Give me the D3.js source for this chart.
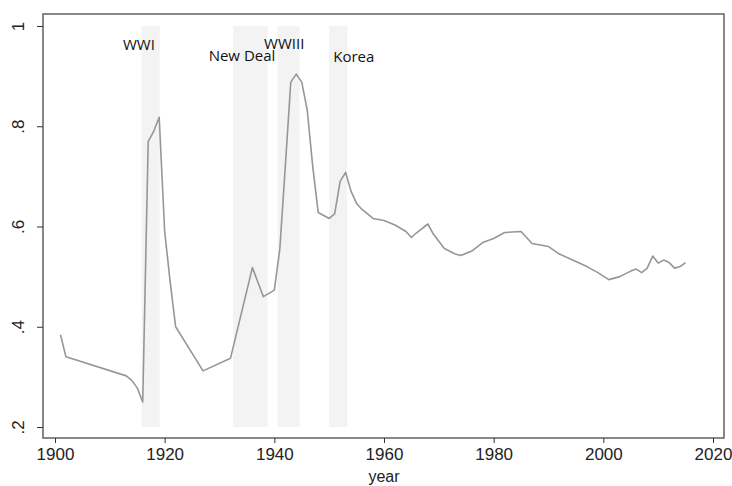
<!DOCTYPE html>
<html>
<head>
<meta charset="utf-8">
<script src="https://cdn.jsdelivr.net/npm/d3@7"></script>
<style>
	body { margin: 0; background: #fff; }
	.axis text { font-family: 'Liberation Sans', Arial, sans-serif; font-size: 17px; fill: #222; }
	.axis path, .axis line { stroke: #333; }
	.note { font-family: 'Open Sans', 'Noto Sans', sans-serif; font-size: 15px; fill: #111; }
</style>
</head>
<body>
<svg id="chart" width="732" height="486"></svg>
<script>
// series
const years = [1901, 1902, 1913, 1914, 1915, 1916, 1917, 1918, 1919, 1920, 1921, 1922, 1927, 1932, 1936, 1938, 1940, 1941, 1942, 1943, 1944, 1945, 1946, 1947, 1948, 1950, 1951, 1952, 1953, 1954, 1955, 1956, 1958, 1960, 1962, 1964, 1965, 1966, 1968, 1969, 1971, 1973, 1974, 1976, 1978, 1980, 1982, 1985, 1987, 1990, 1992, 1995, 1997, 1999, 2001, 2003, 2005, 2006, 2007, 2008, 2009, 2010, 2011, 2012, 2013, 2014, 2015];
const values = [0.384, 0.340, 0.302, 0.293, 0.278, 0.250, 0.770, 0.790, 0.818, 0.590, 0.490, 0.400, 0.312, 0.337, 0.518, 0.460, 0.473, 0.555, 0.720, 0.888, 0.904, 0.888, 0.832, 0.720, 0.628, 0.616, 0.625, 0.690, 0.708, 0.670, 0.646, 0.634, 0.616, 0.612, 0.603, 0.590, 0.578, 0.588, 0.605, 0.585, 0.556, 0.545, 0.542, 0.551, 0.568, 0.576, 0.588, 0.590, 0.566, 0.560, 0.545, 0.530, 0.520, 0.508, 0.494, 0.500, 0.511, 0.515, 0.508, 0.517, 0.541, 0.527, 0.533, 0.528, 0.517, 0.520, 0.528];

const bandNames = ['WWI', 'New Deal', 'WWIII', 'Korea'];
const bandStart = [1915.8, 1932.5, 1940.6, 1950.0];
const bandEnd = [1919.1, 1938.8, 1944.6, 1953.3];
const noteYear = [1915.3, 1934.1, 1941.8, 1954.5];
const noteValue = [0.952, 0.931, 0.955, 0.928];

const xTicks = [1900, 1920, 1940, 1960, 1980, 2000, 2020];
const yTicks = [0.2, 0.4, 0.6, 0.8, 1];

const width = 732, height = 486;
const margin = { top: 14, right: 8, bottom: 48, left: 43 };

const svg = d3.select('#chart');

const xScale = d3.scaleLinear().domain([1900, 2020]).range([55, 713]);
const yScale = d3.scaleLinear().domain([0.2, 1]).range([427, 26]);

const plotBottom = height - margin.bottom;
const plotRight = width - margin.right;

// shaded periods
svg.append('g')
	.selectAll('rect')
	.data(bandStart)
	.join('rect')
	.attr('x', (d, i) => xScale(d))
	.attr('width', (d, i) => xScale(bandEnd[i]) - xScale(d))
	.attr('y', yScale(1))
	.attr('height', yScale(0.2) - yScale(1))
	.attr('fill', '#f3f3f3');

// frame
svg.append('rect')
	.attr('x', margin.left)
	.attr('y', margin.top)
	.attr('width', plotRight - margin.left)
	.attr('height', plotBottom - margin.top)
	.attr('fill', 'none')
	.attr('stroke', '#555')
	.attr('stroke-width', 1.4);

const xAxis = d3.axisBottom(xScale).tickValues(xTicks).tickFormat(d3.format('d')).tickSize(5).tickPadding(3);
const yAxis = d3.axisLeft(yScale).tickValues(yTicks).tickFormat(d => d === 1 ? '1' : d3.format('.1f')(d).replace(/^0/, '')).tickSize(6).tickPadding(6);

const gx = svg.append('g')
	.attr('class', 'axis')
	.attr('transform', `translate(0,${plotBottom})`)
	.call(xAxis);
gx.select('.domain').remove();
gx.selectAll('text').attr('dy', '0.85em');

const gy = svg.append('g')
	.attr('class', 'axis')
	.attr('transform', `translate(${margin.left},0)`)
	.call(yAxis);
gy.select('.domain').remove();
gy.selectAll('text')
	.attr('x', 0)
	.attr('dy', 0)
	.attr('text-anchor', 'middle')
	.attr('transform', 'translate(-19,0) rotate(-90)');

// x label
svg.append('text')
	.attr('x', xScale(1960))
	.attr('y', 482)
	.attr('text-anchor', 'middle')
	.style('font-family', "'Liberation Sans', Arial, sans-serif")
	.style('font-size', '16px')
	.attr('fill', '#222')
	.text('year');

// line
const makeLinePath = d3.line()
	.x((d, i) => xScale(years[i]))
	.y(d => yScale(d));

svg.append('path')
	.datum(values)
	.attr('d', makeLinePath)
	.attr('fill', 'none')
	.attr('stroke', '#929898')
	.attr('stroke-width', 1.6)
	.attr('stroke-linejoin', 'round');

// period labels
svg.append('g')
	.selectAll('text')
	.data(bandNames)
	.join('text')
	.attr('class', 'note')
	.attr('x', (d, i) => xScale(noteYear[i]))
	.attr('y', (d, i) => yScale(noteValue[i]))
	.attr('text-anchor', 'middle')
	.text(d => d);
</script>
</body>
</html>
